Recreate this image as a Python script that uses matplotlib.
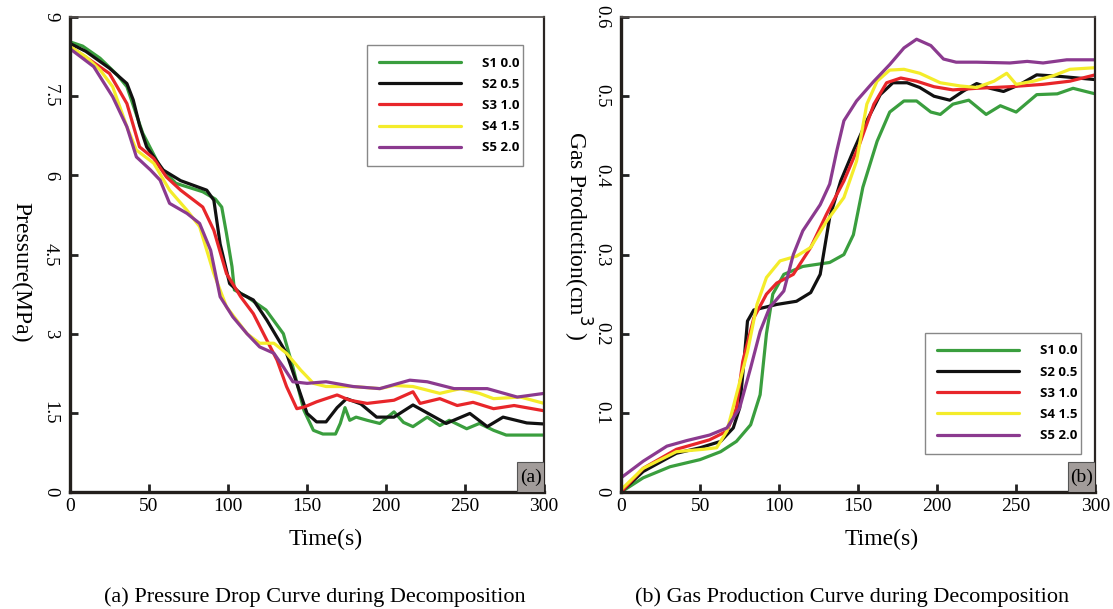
import matplotlib
matplotlib.use("Agg")
import matplotlib.pyplot as plt
from matplotlib.patches import Rectangle

# ---- data ----
labels = ["S1 0.0", "S2 0.5", "S3 1.0", "S4 1.5", "S5 2.0"]
colors = ["#3a9e3e", "#111111", "#e8262a", "#f4ec2a", "#8b3a8f"]

# (a) pressure drop, MPa
t_p1 = [0, 8, 19, 30, 36, 46, 57, 67, 84, 92, 96, 99, 102.5, 104, 112, 124, 135, 141, 148, 154, 160, 168,
        171, 174, 177, 181, 188, 196, 205, 211, 217, 226, 234, 240, 251, 259, 268, 276, 300]
p1 = [8.53, 8.45, 8.22, 7.9, 7.68, 6.8, 6.16, 5.85, 5.69, 5.55, 5.4, 4.9, 4.27, 3.83, 3.7, 3.45, 3.0, 2.37,
      1.55, 1.17, 1.1, 1.1, 1.3, 1.6, 1.36, 1.42, 1.36, 1.3, 1.52, 1.32, 1.24, 1.42, 1.26, 1.36, 1.2, 1.3,
      1.17, 1.08, 1.08]
t_p2 = [0, 10, 25, 36, 40, 44, 48.5, 59, 70, 86.5, 91, 95, 101, 108, 116, 124.5, 137, 143.5, 150, 156, 162,
        169, 175, 184, 194, 205, 217, 226, 238, 253, 264, 274, 289, 300]
p2 = [8.5, 8.35, 8.03, 7.74, 7.43, 6.95, 6.54, 6.1, 5.9, 5.72, 5.53, 4.7, 3.95, 3.76, 3.64, 3.26, 2.63, 2.06,
      1.49, 1.33, 1.33, 1.6, 1.77, 1.67, 1.42, 1.42, 1.65, 1.5, 1.3, 1.49, 1.24, 1.42, 1.31, 1.29]
t_p3 = [0, 12, 25, 36, 44, 53, 61, 70, 84, 91, 99, 108, 116, 124.5, 131, 137, 143.5, 148, 156, 169, 177, 188,
        205, 217, 221.5, 234, 245, 255, 268, 281, 300]
p3 = [8.44, 8.2, 7.93, 7.36, 6.54, 6.32, 5.97, 5.72, 5.4, 4.96, 4.14, 3.7, 3.38, 2.88, 2.5, 2.0, 1.58, 1.61,
      1.71, 1.84, 1.74, 1.68, 1.74, 1.9, 1.68, 1.77, 1.64, 1.7, 1.58, 1.64, 1.54]
t_p4 = [0, 10, 19, 27, 36, 42, 53, 63, 74, 82, 91, 99, 112, 120, 129, 137, 146, 154, 162, 179, 196, 205, 217,
        234, 247, 259, 268, 285, 300]
p4 = [8.44, 8.25, 8.0, 7.68, 6.92, 6.48, 6.23, 5.72, 5.34, 5.03, 4.14, 3.51, 3.0, 2.82, 2.82, 2.63, 2.31, 2.06,
      2.0, 2.0, 1.96, 2.02, 2.0, 1.87, 1.96, 1.87, 1.77, 1.8, 1.68]
t_p5 = [0, 15, 27, 36, 42, 51, 57, 63, 74, 82, 89, 95, 103, 112, 120, 129, 135, 141, 150, 162, 179, 196, 215,
        226, 243, 264, 283, 300]
p5 = [8.4, 8.06, 7.49, 6.92, 6.35, 6.1, 5.91, 5.47, 5.28, 5.09, 4.58, 3.7, 3.32, 3.0, 2.75, 2.63, 2.37, 2.09,
      2.06, 2.09, 2.0, 1.96, 2.12, 2.09, 1.96, 1.96, 1.8, 1.87]

# (b) gas production, cm3
t_g1 = [0, 14, 31, 50, 63, 73, 82, 88, 92, 96, 103, 115, 132, 141, 147, 153, 162, 170, 179, 187, 196, 202, 210,
        220, 231, 240, 250, 263, 276, 286, 300]
g1 = [0.0, 0.018, 0.032, 0.041, 0.051, 0.064, 0.085, 0.123, 0.2, 0.25, 0.275, 0.285, 0.29, 0.3, 0.325, 0.385,
      0.443, 0.48, 0.494, 0.494, 0.48, 0.477, 0.49, 0.495, 0.477, 0.488, 0.48, 0.502, 0.503, 0.51, 0.503]
t_g2 = [0, 14, 35, 50, 63, 71, 75, 78, 80, 84, 98.5, 111, 120, 126, 132, 139, 147, 155.5, 164, 172, 181, 189,
        198, 208, 217, 225, 233.5, 242, 252.5, 263, 278, 300]
g2 = [0.0, 0.026, 0.049, 0.056, 0.064, 0.081, 0.106, 0.17, 0.216, 0.23, 0.237, 0.241, 0.252, 0.275, 0.347,
      0.393, 0.431, 0.469, 0.502, 0.517, 0.517, 0.511, 0.5, 0.495, 0.507, 0.516, 0.51, 0.506, 0.515, 0.527,
      0.525, 0.521]
t_g3 = [0, 14, 35, 56, 67, 73, 77, 84, 92, 98.5, 109, 120, 130, 141, 151, 160, 168, 177, 187, 198, 210, 225,
        246, 267, 284, 300]
g3 = [0.0, 0.03, 0.054, 0.066, 0.077, 0.106, 0.165, 0.22, 0.25, 0.264, 0.275, 0.309, 0.351, 0.393, 0.44, 0.49,
      0.517, 0.523, 0.519, 0.512, 0.508, 0.51, 0.512, 0.515, 0.519, 0.527]
t_g4 = [0, 14, 35, 52, 60.5, 67, 73, 80, 86, 92, 100.6, 111, 120, 130, 141, 149, 155.5, 162, 170, 179, 189,
        202, 214.5, 225, 236, 244, 250, 261, 273.6, 284, 300]
g4 = [0.003, 0.03, 0.051, 0.054, 0.056, 0.077, 0.123, 0.177, 0.237, 0.271, 0.292, 0.298, 0.309, 0.342, 0.372,
      0.418, 0.49, 0.519, 0.533, 0.534, 0.529, 0.517, 0.513, 0.511, 0.519, 0.529, 0.515, 0.519, 0.526, 0.534,
      0.536]
t_g5 = [0, 14, 29, 41.5, 56, 67, 75, 82, 88, 94, 103, 109, 115, 126, 132, 136.5, 141, 149, 160, 170, 179, 187,
        196, 204, 212, 225, 246, 257, 267, 282, 300]
g5 = [0.018, 0.039, 0.058, 0.065, 0.072, 0.081, 0.106, 0.157, 0.203, 0.233, 0.254, 0.3, 0.33, 0.363, 0.389,
      0.431, 0.469, 0.494, 0.519, 0.54, 0.561, 0.572, 0.564, 0.547, 0.543, 0.543, 0.542, 0.544, 0.542, 0.546,
      0.546]

p_series = [(t_p1, p1), (t_p2, p2), (t_p3, p3), (t_p4, p4), (t_p5, p5)]
g_series = [(t_g1, g1), (t_g2, g2), (t_g3, g3), (t_g4, g4), (t_g5, g5)]

serif = "Liberation Serif"
fig = plt.figure(figsize=(11.13, 6.09), dpi=100)
ax1 = fig.add_axes([0.0629, 0.192, 0.426, 0.780])
ax2 = fig.add_axes([0.558, 0.192, 0.426, 0.780])


def style_axes(ax, yticks, ylabel, ylpos, xlx, tag, leg_box):
    ax.set_xlim(0, 300)
    ax.set_ylim(yticks[0], yticks[-1])
    ax.set_xticks([0, 50, 100, 150, 200, 250, 300])
    ax.set_yticks(yticks)
    ax.set_xticklabels(["0", "50", "100", "150", "200", "250", "300"], fontfamily=serif, fontsize=14)
    ax.set_yticklabels([f"{v:g}" for v in yticks], fontfamily=serif, fontsize=13.5,
                       rotation=-90, va="center")
    ax.tick_params(direction="in", length=6, width=2, color="#222222")
    ax.tick_params(axis="y", pad=8)
    ax.tick_params(axis="x", pad=4)
    for s in ["left", "bottom"]:
        ax.spines[s].set_linewidth(2.4)
        ax.spines[s].set_color("#231f1c")
    ax.spines["top"].set_linewidth(1.2)
    ax.spines["top"].set_color("#55504e")
    ax.spines["right"].set_linewidth(1.6)
    ax.spines["right"].set_color("#2a2523")
    ax.set_xlabel("Time(s)", fontfamily=serif, fontsize=17)
    ax.xaxis.set_label_coords(xlx, -0.078)
    ax.set_ylabel(ylabel, fontfamily=serif, fontsize=17, rotation=-90, va="top")
    ax.yaxis.set_label_coords(*ylpos)
    ax.add_patch(Rectangle((0.943, 0.0), 0.057, 0.063, transform=ax.transAxes,
                           facecolor="#a29c9a", edgecolor="#555555", lw=0.8, zorder=5))
    ax.text(0.9715, 0.032, tag, transform=ax.transAxes, ha="center", va="center",
            fontfamily=serif, fontsize=14, zorder=6)
    leg = ax.legend(loc="lower left", bbox_to_anchor=leg_box, mode="expand",
                    prop={"family": "Open Sans", "weight": "bold", "size": 9.5},
                    handlelength=6.2, handletextpad=1.6, borderpad=0.9, labelspacing=0.62,
                    fancybox=False, framealpha=1, edgecolor="#888888", borderaxespad=0)
    leg.get_frame().set_linewidth(1.0)


for (tt, vv), c, lab in zip(p_series, colors, labels):
    ax1.plot(tt, vv, color=c, lw=2.3, label=lab, solid_joinstyle="round", solid_capstyle="round")
for (tt, vv), c, lab in zip(g_series, colors, labels):
    ax2.plot(tt, vv, color=c, lw=2.3, label=lab, solid_joinstyle="round", solid_capstyle="round")

style_axes(ax1, [0, 1.5, 3, 4.5, 6, 7.5, 9], "Pressure(MPa)", (-0.082, 0.463), 0.54, "(a)",
           (0.627, 0.686, 0.329, 0.249))
style_axes(ax2, [0, 0.1, 0.2, 0.3, 0.4, 0.5, 0.6], "Gas Production(cm$^3$ )", (-0.058, 0.54), 0.55, "(b)",
           (0.641, 0.08, 0.329, 0.246))

fig.text(0.283, 0.004, "(a) Pressure Drop Curve during Decomposition", ha="center", va="bottom",
         fontfamily=serif, fontsize=16)
fig.text(0.766, 0.004, "(b) Gas Production Curve during Decomposition", ha="center", va="bottom",
         fontfamily=serif, fontsize=16)

fig.savefig("out.png", dpi=100)
